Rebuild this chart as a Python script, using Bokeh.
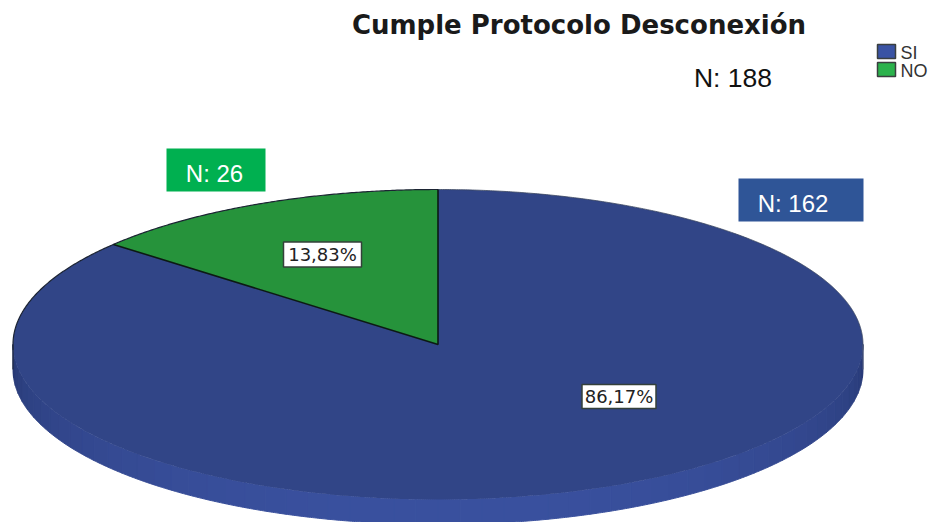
import numpy as np
from bokeh.plotting import figure
from bokeh.models import Range1d, Label
from bokeh.embed import file_html
from bokeh.resources import INLINE

categories = ["SI", "NO"]
counts = [162, 26]
percent_labels = ["86,17%", "13,83%"]
total_label = "N: 188"
count_labels = ["N: 162", "N: 26"]
title = "Cumple Protocolo Desconexión"

CX, CY, RX, RY, DEPTH = 437.5, 344, 425, 155, 25
NAVY, GREEN = "#314587", "#26933b"

p = figure(width=931, height=522, output_backend="svg", toolbar_location=None,
           x_range=Range1d(0, 931), y_range=Range1d(522, 0),
           min_border=0, outline_line_color=None, background_fill_color="white")
p.axis.visible = False
p.grid.visible = False

def ell(theta, dy=0.0):
    # theta measured clockwise from 12 o'clock
    return CX + RX * np.sin(theta), CY + dy - RY * np.cos(theta)

no_frac = counts[1] / sum(counts)
no_start = 2 * np.pi * (1 - no_frac)

# side wall: many narrow bands so the shading reads as a soft gradient
edges = np.radians(np.linspace(90, 270, 61))
dark, light = np.array([0x27, 0x38, 0x72]), np.array([0x3a, 0x51, 0x9f])
for a, b in zip(edges[:-1], edges[1:]):
    k = np.sin((a + b) / 2 - np.pi / 2) ** 0.7 if (a + b) / 2 > np.pi / 2 else 0
    rgb = (dark + (light - dark) * k).astype(int)
    c = "#%02x%02x%02x" % tuple(rgb)
    t = np.linspace(a, b, 12)
    x1, y1 = ell(t)
    x2, y2 = ell(t[::-1], DEPTH)
    p.patch(np.r_[x1, x2], np.r_[y1, y2], fill_color=c, line_color=c, line_width=1)

# top faces
t = np.linspace(0, no_start, 400)
x, y = ell(t)
p.patch(np.r_[CX, x], np.r_[CY, y], fill_color=NAVY, line_color=None)
t = np.linspace(no_start, 2 * np.pi, 120)
x, y = ell(t)
p.patch(np.r_[CX, x], np.r_[CY, y], fill_color=GREEN, line_color=None)

# outlines
t = np.linspace(np.radians(268), 2 * np.pi, 300)
x, y = ell(t)
p.line(x, y, line_color="#1c2433", line_width=1.2)
t = np.linspace(0, np.radians(92), 300)
x, y = ell(t)
p.line(x, y, line_color="#3b4660", line_width=0.8)
xe, ye = ell(no_start)
p.line([xe, CX, CX], [ye, CY, CY - RY], line_color="#0c1a14", line_width=1.6)
p.line([CX - RX, CX - RX], [CY, CY + DEPTH], line_color="#222c44", line_width=1.2)
p.line([CX + RX, CX + RX], [CY, CY + DEPTH], line_color="#555f78", line_width=0.8)

def lab(x, y, s, size, color="black", style="normal", font="Liberation Sans", align="center"):
    p.add_layout(Label(x=x, y=y, text=s, text_font=font, text_font_size=size, text_color=color,
                       text_font_style=style, text_align=align, text_baseline="middle"))

# percentage boxes
for (cx, cy, w, h), s in zip([(618.5, 396, 74, 24), (322, 254, 78, 25)], percent_labels):
    p.quad(left=cx - w / 2, right=cx + w / 2, top=cy - h / 2, bottom=cy + h / 2,
           fill_color="white", line_color="#34403a", line_width=1.5)
    lab(cx, cy, s, "18px", color="#222222", font="DejaVu Sans")

# count boxes
p.quad(left=[738], right=[863], top=[178], bottom=[221], fill_color="#2f5597", line_color=None)
p.quad(left=[166], right=[265], top=[148], bottom=[191], fill_color="#00b050", line_color=None)
lab(792.5, 202.5, count_labels[0], "24px", color="white")
lab(214, 172.5, count_labels[1], "24px", color="white")
lab(732.5, 77.5, total_label, "26.5px", color="#111111")

# title
lab(578.5, 24, title, "26px", color="#1a1a1a", style="bold", font="DejaVu Sans")

# legend
for yy, c, s in zip([51, 69], ["#3a53a4", "#2bb24c"], categories):
    p.quad(left=[877], right=[895], top=[yy - 7], bottom=[yy + 7], fill_color=c, line_color="#3a3f3f", line_width=1.5)
    lab(900, yy + 1, s, "18px", color="#333333", align="left")

open("out.html", "w").write(file_html(p, INLINE))
